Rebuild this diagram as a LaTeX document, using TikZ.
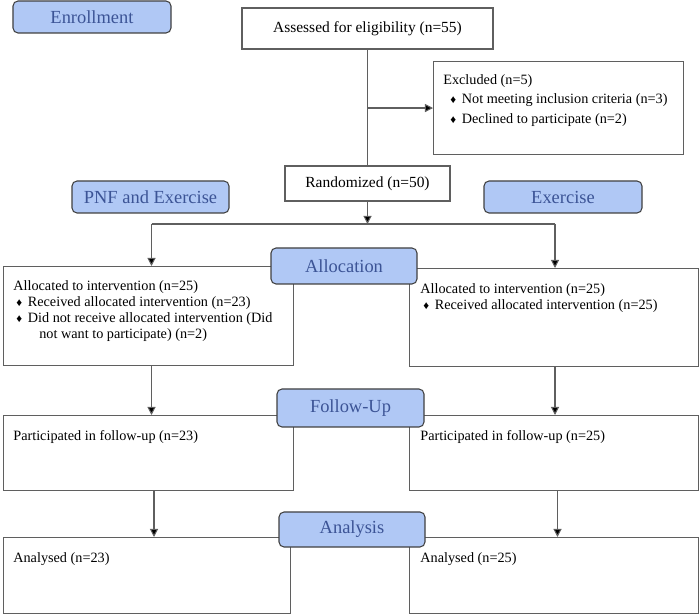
\documentclass[tikz,border=0pt]{standalone}
\usepackage{fontspec}
\setmainfont{Liberation Serif}
\usepackage{tikz}
\usetikzlibrary{shapes.geometric, arrows, arrows.meta}
\definecolor{headfill}{RGB}{176,200,245}
\definecolor{headtext}{RGB}{60,84,150}
\definecolor{linegray}{RGB}{95,95,95}
\tikzstyle{box} = [draw=linegray, line width=0.6pt, rectangle, inner sep=0pt, font=\fontsize{8.8}{9.2}\selectfont]
\tikzstyle{txt} = [anchor=north west, align=left, inner sep=0pt, font=\fontsize{8.1}{9.2}\selectfont]
\tikzstyle{head} = [draw=black!75, fill=headfill, text=headtext, rectangle, rounded corners=0.1cm, line width=0.6pt, font=\fontsize{10.5}{12}\selectfont]
\tikzstyle{line} = [line width=0.6pt, draw=linegray]
\tikzstyle{arrow} = [line width=0.6pt, draw=linegray, -{Stealth[length=4.6pt, width=4.6pt, inset=0pt, fill=black]}]
% small diamond bullet, optional indent
\newcommand{\bul}[1][0.06cm]{\makebox[#1]{}\makebox[0.23cm][l]{\fontsize{6.5}{6.5}\selectfont ♦}}

\begin{document}
\begin{tikzpicture}
	\useasboundingbox (0,0) rectangle (14,-12.28);
	
	% Enrollment
	\node[box, minimum width=5.02cm, minimum height=0.82cm] (assessed) at (7.35,-0.57) {Assessed for eligibility (n=55)};
	\node[box, anchor=north west, minimum width=5cm, minimum height=1.86cm] (excluded) at (8.66,-1.22) {};
	\node[txt] at ([shift={(0.2,-0.27)}]excluded.north west) {Excluded (n=5)\\[1.7pt]
		\bul[0.14cm]Not meeting inclusion criteria (n=3)\\[1.7pt]
		\bul[0.14cm]Declined to participate (n=2)};
	\node[box, minimum width=3.3cm, minimum height=0.7cm] (random) at (7.35,-3.67) {Randomized (n=50)};
	
	% Allocation
	\node[box, anchor=north west, minimum width=5.8cm, minimum height=1.98cm] (alloc1) at (0.06,-5.32) {};
	\node[txt] at ([shift={(0.2,-0.28)}]alloc1.north west) {Allocated to intervention (n=25)\\
		\bul Received allocated intervention (n=23)\\
		\bul Did not receive allocated intervention (Did\\
		\makebox[0.52cm]{}not want to participate) (n=2)};
	\node[box, anchor=north west, minimum width=5.78cm, minimum height=1.96cm] (alloc2) at (8.18,-5.36) {};
	\node[txt] at ([shift={(0.22,-0.3)}]alloc2.north west) {Allocated to intervention (n=25)\\
		\bul Received allocated intervention (n=25)};
	
	% Follow-up
	\node[box, anchor=north west, minimum width=5.8cm, minimum height=1.5cm] (follow1) at (0.06,-8.3) {};
	\node[txt] at ([shift={(0.2,-0.3)}]follow1.north west) {Participated in follow-up (n=23)};
	\node[box, anchor=north west, minimum width=5.78cm, minimum height=1.5cm] (follow2) at (8.18,-8.3) {};
	\node[txt] at ([shift={(0.22,-0.3)}]follow2.north west) {Participated in follow-up (n=25)};
	
	% Analysis
	\node[box, anchor=north west, minimum width=5.74cm, minimum height=1.52cm] (analysed1) at (0.06,-10.74) {};
	\node[txt] at ([shift={(0.2,-0.3)}]analysed1.north west) {Analysed (n=23)};
	\node[box, anchor=north west, minimum width=5.78cm, minimum height=1.52cm] (analysed2) at (8.18,-10.74) {};
	\node[txt] at ([shift={(0.22,-0.3)}]analysed2.north west) {Analysed (n=25)};
	
	% Connectors
	\coordinate (split) at (7.35,-4.48);
	\coordinate (colL) at (3.03,-4.48);
	\coordinate (colR) at (11.1,-4.48);
	\draw[line] (assessed) -- (random);
	\draw[arrow] (assessed.south |- excluded.west) -- (excluded.west);
	\draw[arrow] (random.south) -- (split);
	\draw[line] (colL) -- (colR);
	\draw[arrow] (colL) -- (colL |- alloc1.north);
	\draw[arrow] (colR) -- (colR |- alloc2.north);
	\draw[arrow] (alloc1.south -| colL) -- (follow1.north -| colL);
	\draw[arrow] (alloc2.south -| colR) -- (follow2.north -| colR);
	\draw[arrow] ([xshift=0.05cm]follow1.south -| colL) -- ([xshift=0.05cm]analysed1.north -| colL);
	\draw[arrow] ([xshift=0.05cm]follow2.south -| colR) -- ([xshift=0.05cm]analysed2.north -| colR);
	
	% Stage labels
	\node[head, minimum width=3.16cm, minimum height=0.64cm] (enroll) at (1.84,-0.34) {Enrollment};
	\node[head, minimum width=3.14cm, minimum height=0.64cm] (pnf) at (3.01,-3.94) {PNF and Exercise};
	\node[head, minimum width=3.16cm, minimum height=0.64cm] (exercise) at (11.26,-3.94) {Exercise};
	\node[head, minimum width=2.92cm, minimum height=0.72cm] (allocation) at (6.88,-5.32) {Allocation};
	\node[head, minimum width=2.94cm, minimum height=0.76cm] (followup) at (7.01,-8.16) {Follow-Up};
	\node[head, minimum width=2.92cm, minimum height=0.7cm] (analysis) at (7.04,-10.59) {Analysis};
\end{tikzpicture}
\end{document}
